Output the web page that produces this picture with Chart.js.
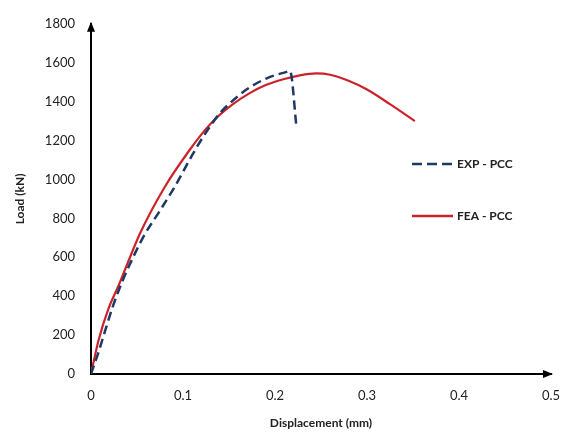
<!DOCTYPE html>
<html>
<head>
<meta charset="utf-8">
<script src="https://cdn.jsdelivr.net/npm/chart.js@4/dist/chart.umd.min.js"></script>
<style>
  html, body { margin: 0; padding: 0; background: #fff; }
  #wrap { width: 575px; height: 436px; }
</style>
</head>
<body>
<div id="wrap"><canvas id="loadChart" width="575" height="436"></canvas></div>
<script>
// values
const expDisp = [0, 0.008, 0.0152, 0.0243, 0.035, 0.0478, 0.0587, 0.075, 0.0913, 0.1094, 0.122, 0.14, 0.151, 0.169, 0.191, 0.2126, 0.2163, 0.2235];
const expLoad = [0, 110, 220, 355, 487, 620, 720, 840, 965, 1120, 1220, 1340, 1392, 1462, 1520, 1553, 1558, 1262];

const feaDisp = [0, 0.008, 0.019, 0.03, 0.04, 0.053, 0.08, 0.107, 0.125, 0.137, 0.155, 0.173, 0.19, 0.209, 0.227, 0.245, 0.26, 0.28, 0.30, 0.325, 0.352];
const feaLoad = [0, 170, 336, 455, 572, 720, 960, 1150, 1260, 1320, 1390, 1445, 1485, 1515, 1535, 1545, 1538, 1507, 1462, 1387, 1300];

const xTicks = [0, 0.1, 0.2, 0.3, 0.4, 0.5];
const yTicks = [0, 200, 400, 600, 800, 1000, 1200, 1400, 1600, 1800];

const seriesNames = ['EXP - PCC', 'FEA - PCC'];
const expColor = '#1f3864';
const feaColor = '#cc2229';
const fontFamily = 'Lato, "Open Sans", sans-serif';

function toPoints(xs, ys) {
    return xs.map(function(x, i) { return { x: x, y: ys[i] }; });
}

// arrow heads on the axes plus the legend at the right
const decorPlugin = {
    id: 'decor',
    afterDraw: function(chart) {
        const ctx = chart.ctx;
        const area = chart.chartArea;
        ctx.save();
        ctx.fillStyle = '#000';
        // y arrow
        ctx.beginPath();
        ctx.moveTo(area.left, area.top - 2);
        ctx.lineTo(area.left - 4, area.top + 8);
        ctx.lineTo(area.left + 4, area.top + 8);
        ctx.closePath();
        ctx.fill();
        // x arrow
        ctx.beginPath();
        ctx.moveTo(area.right + 2, area.bottom);
        ctx.lineTo(area.right - 8, area.bottom - 4);
        ctx.lineTo(area.right - 8, area.bottom + 4);
        ctx.closePath();
        ctx.fill();

        // legend
        const lx = 412, tx = 457;
        const rows = [164, 216];
        ctx.lineWidth = 2.5;
        ctx.strokeStyle = expColor;
        ctx.setLineDash([10, 5]);
        ctx.beginPath();
        ctx.moveTo(lx, rows[0]);
        ctx.lineTo(lx + 40, rows[0]);
        ctx.stroke();
        ctx.setLineDash([]);
        ctx.strokeStyle = feaColor;
        ctx.beginPath();
        ctx.moveTo(lx, rows[1]);
        ctx.lineTo(lx + 41, rows[1]);
        ctx.stroke();
        ctx.fillStyle = '#222';
        ctx.font = 'bold 12px ' + fontFamily;
        ctx.textBaseline = 'middle';
        ctx.fillText(seriesNames[0], tx, rows[0]);
        ctx.fillText(seriesNames[1], tx, rows[1]);
        ctx.restore();
    }
};

const ctx = document.getElementById('loadChart').getContext('2d');
const loadChart = new Chart(ctx, {
    type: 'line',
    data: {
        datasets: [{
            label: seriesNames[0],
            data: toPoints(expDisp, expLoad),
            borderColor: expColor,
            borderWidth: 2.5,
            borderDash: [9, 5],
            pointRadius: 0,
            cubicInterpolationMode: 'monotone',
            fill: false
        }, {
            label: seriesNames[1],
            data: toPoints(feaDisp, feaLoad),
            borderColor: feaColor,
            borderWidth: 2.2,
            pointRadius: 0,
            cubicInterpolationMode: 'monotone',
            fill: false
        }]
    },
    options: {
        responsive: false,
        animation: false,
        layout: { padding: { left: 0, top: 14, right: 24, bottom: 0 } },
        plugins: {
            legend: { display: false },
            tooltip: { enabled: false }
        },
        scales: {
            x: {
                type: 'linear',
                min: 0,
                max: 0.5,
                afterBuildTicks: function(scale) { scale.ticks = xTicks.map(function(v) { return { value: v }; }); },
                afterFit: function(scale) { scale.height = 62; },
                grid: { display: false, drawTicks: false },
                border: { display: true, color: '#000', width: 2 },
                ticks: {
                    padding: 14,
                    color: '#222',
                    font: { family: fontFamily, size: 13 },
                    callback: function(v) { return String(v); }
                },
                title: {
                    display: true,
                    text: 'Displacement (mm)',
                    color: '#222',
                    font: { family: fontFamily, size: 12, weight: 'bold' },
                    padding: { top: 0, bottom: 6 }
                }
            },
            y: {
                min: 0,
                max: 1800,
                afterBuildTicks: function(scale) { scale.ticks = yTicks.map(function(v) { return { value: v }; }); },
                afterFit: function(scale) { scale.width = 91; },
                grid: { display: false, drawTicks: false },
                border: { display: true, color: '#000', width: 2 },
                ticks: {
                    padding: 16,
                    color: '#222',
                    font: { family: fontFamily, size: 13 },
                    callback: function(v) { return String(v); }
                },
                title: {
                    display: true,
                    text: 'Load (kN)',
                    color: '#222',
                    font: { family: fontFamily, size: 12, weight: 'bold' },
                    padding: { top: 13, bottom: 0 }
                }
            }
        }
    },
    plugins: [decorPlugin]
});
</script>
</body>
</html>
